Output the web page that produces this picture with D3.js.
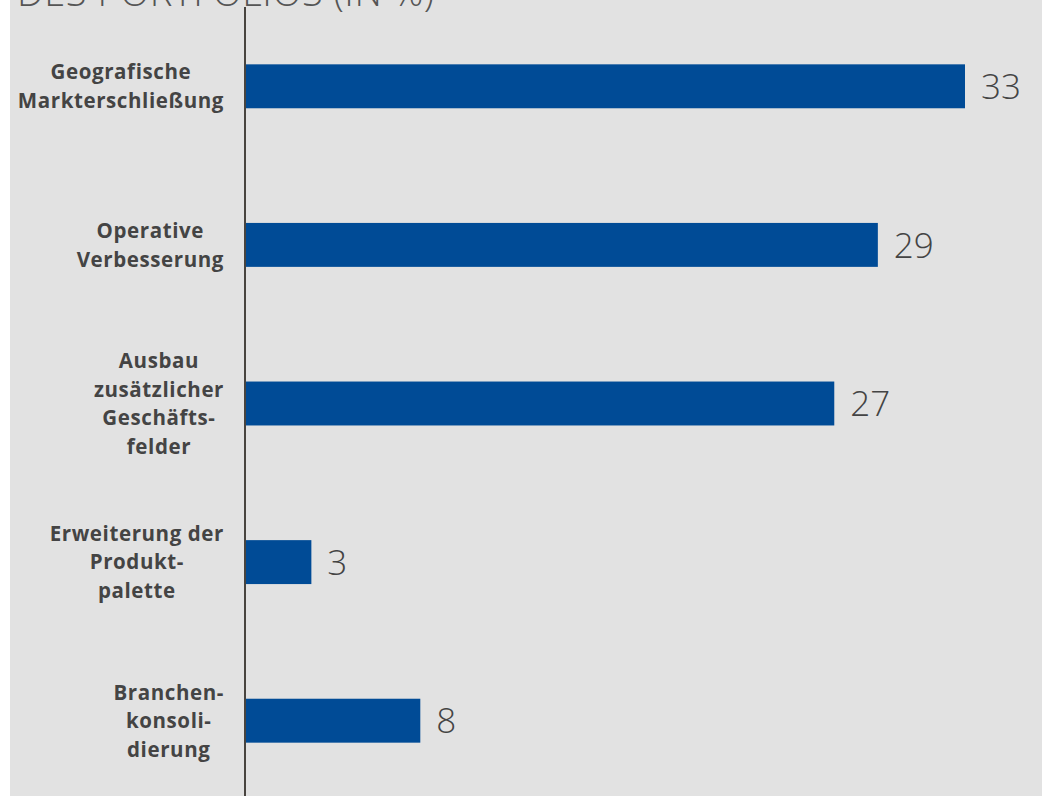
<!DOCTYPE html>
<html>
<head>
<meta charset="utf-8">
<script src="https://cdn.jsdelivr.net/npm/d3@7/dist/d3.min.js"></script>
<style>
  html, body { margin: 0; padding: 0; background: #ffffff; }
  svg { display: block; }
</style>
</head>
<body>
<div id="chart"></div>
<script>
// Ziele der Portfolio-Erweiterung, Anteil in Prozent
const categories = [
  ["Geografische", "Markterschließung"],
  ["Operative", "Verbesserung"],
  ["Ausbau", "zusätzlicher", "Geschäfts-", "felder"],
  ["Erweiterung der", "Produkt-", "palette"],
  ["Branchen-", "konsoli-", "dierung"]
];
const values = [33, 29, 27, 3, 8];
const titleText = "DES PORTFOLIOS (IN %)";

const W = 1042, H = 796;
const svg = d3.select("#chart").append("svg")
  .attr("width", W).attr("height", H);

// panel background
svg.append("rect")
  .attr("x", 10).attr("y", 0)
  .attr("width", W - 10).attr("height", H)
  .attr("fill", "#e2e2e2");

// title (runs off the top edge)
svg.append("text")
  .attr("x", 17).attr("y", 6)
  .attr("font-family", "'Open Sans', sans-serif")
  .attr("font-weight", 300)
  .attr("font-size", 38)
  .attr("letter-spacing", 0.5)
  .attr("fill", "#555")
  .text(titleText);

const ids = categories.map((c, i) => i);

const y = d3.scaleBand()
  .domain(ids)
  .range([7, 800])
  .paddingInner(0.723)
  .paddingOuter(0.3615);

const x = d3.scaleLinear()
  .domain([0, 33])
  .range([246, 965]);

// bars
svg.selectAll("rect.bar")
  .data(values)
  .join("rect")
  .attr("class", "bar")
  .attr("x", x(0))
  .attr("y", (d, i) => y(i))
  .attr("width", d => x(d) - x(0))
  .attr("height", y.bandwidth())
  .attr("fill", "#004b96");

// value labels
svg.selectAll("text.val")
  .data(values)
  .join("text")
  .attr("class", "val")
  .attr("x", d => x(d) + 16)
  .attr("y", (d, i) => y(i) + y.bandwidth() / 2)
  .attr("dy", "0.36em")
  .attr("font-family", "'Open Sans', sans-serif")
  .attr("font-weight", 300)
  .attr("font-size", 35)
  .attr("fill", "#444")
  .text(d => d);

// category labels: block right-aligned to the axis, lines centred within block
const labelRight = 224;
const lineH = 28.5;
categories.forEach((lines, i) => {
  const g = svg.append("g");
  const cy = y(i) + y.bandwidth() / 2;
  const texts = lines.map((t, j) => g.append("text")
    .attr("y", cy + (j - (lines.length - 1) / 2) * lineH)
    .attr("dy", "0.36em")
    .attr("text-anchor", "middle")
    .attr("font-family", "'Open Sans', sans-serif")
    .attr("font-weight", 700)
    .attr("font-size", 20.5)
    .attr("letter-spacing", 0.6)
    .attr("fill", "#444")
    .text(t));
  const maxW = d3.max(texts, t => t.node().getBBox().width);
  texts.forEach(t => t.attr("x", labelRight - maxW / 2));
});

// vertical axis line
svg.append("line")
  .attr("x1", 245).attr("x2", 245)
  .attr("y1", 7).attr("y2", H)
  .attr("stroke", "#48443f")
  .attr("stroke-width", 2);
</script>
</body>
</html>
